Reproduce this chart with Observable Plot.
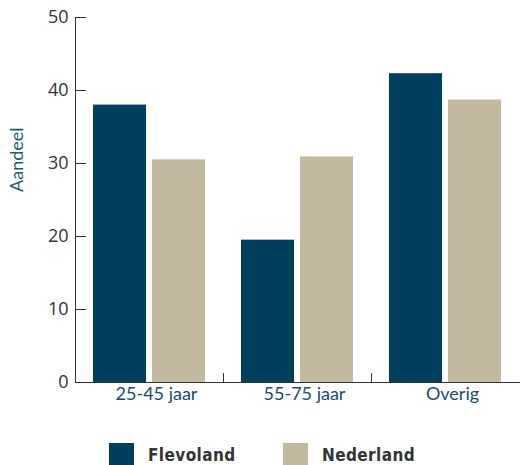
<!DOCTYPE html>
<html><head><meta charset="utf-8">
<script src="https://cdn.jsdelivr.net/npm/d3@7"></script>
<script src="https://cdn.jsdelivr.net/npm/@observablehq/plot@0.6"></script>
<style>
body{margin:0;background:#fff;}
#legend{position:relative;height:55px;width:520px;font-family:"DejaVu Sans",sans-serif;font-stretch:condensed;font-weight:bold;font-size:17px;color:#333;letter-spacing:0.4px;}
.sw{position:absolute;top:33px;width:25px;height:22px;}
.lt{position:absolute;top:33px;line-height:24px;}
</style></head><body>
<div id="chart"></div>
<div id="legend"></div>
<script>
const groups = ["25-45 jaar", "55-75 jaar", "Overig"];
const series = ["Flevoland", "Nederland"];
const flevoland = [38.0, 19.5, 42.3];
const nederland = [30.5, 30.9, 38.7];
const yTicks = [0, 10, 20, 30, 40, 50];
const colors = ["#00405c", "#c3b9a0"];
const yLabel = "Aandeel";
const dividers = groups.slice(0, -1);

const data = groups.flatMap((g, i) => [
  {group: g, series: series[0], value: flevoland[i]},
  {group: g, series: series[1], value: nederland[i]}
]);

const tickShape = {draw(ctx, l) { ctx.moveTo(0, 0); ctx.lineTo(0, -l); }};

const plot = Plot.plot({
  width: 520, height: 410,
  marginTop: 17, marginBottom: 28, marginLeft: 74, marginRight: 0,
  style: {fontFamily: "Open Sans", fontSize: "18px", color: "#333", background: "#fff"},
  fx: {domain: groups, padding: 0, label: null},
  x: {domain: series, paddingInner: 0.1, paddingOuter: 0.29, axis: null},
  y: {domain: [0, 50], label: null},
  color: {domain: series, range: colors},
  marks: [
    Plot.barY(data, {fx: "group", x: "series", y: "value", fill: "series"}),
    Plot.frame({anchor: "bottom", stroke: "#333"}),
    Plot.frame({anchor: "left", facetAnchor: "left", stroke: "#333"}),
    Plot.vector(dividers, {fx: d => d, frameAnchor: "bottom-right", length: 9, rotate: 0, anchor: "start", shape: tickShape, stroke: "#333", strokeWidth: 1}),
    Plot.axisY({ticks: yTicks, tickSize: -11, tickPadding: 18, fontSize: 18, fill: "#333", stroke: "#333", label: null}),
    Plot.axisFx({anchor: "bottom", tickSize: 0, tickPadding: 5, fontSize: 18, fontFamily: "Lato", fill: "#1a4b68", dx: 7, label: null}),
    Plot.text([yLabel], {frameAnchor: "left", facetAnchor: "left", rotate: -90, dx: -58, dy: -8, fontSize: 18, fontFamily: "Lato", fill: "#1d5878"})
  ]
});
document.getElementById("chart").appendChild(plot);

const legend = document.getElementById("legend");
const lx = [109, 283];
series.forEach((s, i) => {
  const sw = document.createElement("div");
  sw.className = "sw"; sw.style.left = lx[i] + "px"; sw.style.background = colors[i];
  legend.appendChild(sw);
  const t = document.createElement("div");
  t.className = "lt"; t.style.left = (lx[i] + 39) + "px"; t.textContent = s;
  legend.appendChild(t);
});
</script>
</body></html>
